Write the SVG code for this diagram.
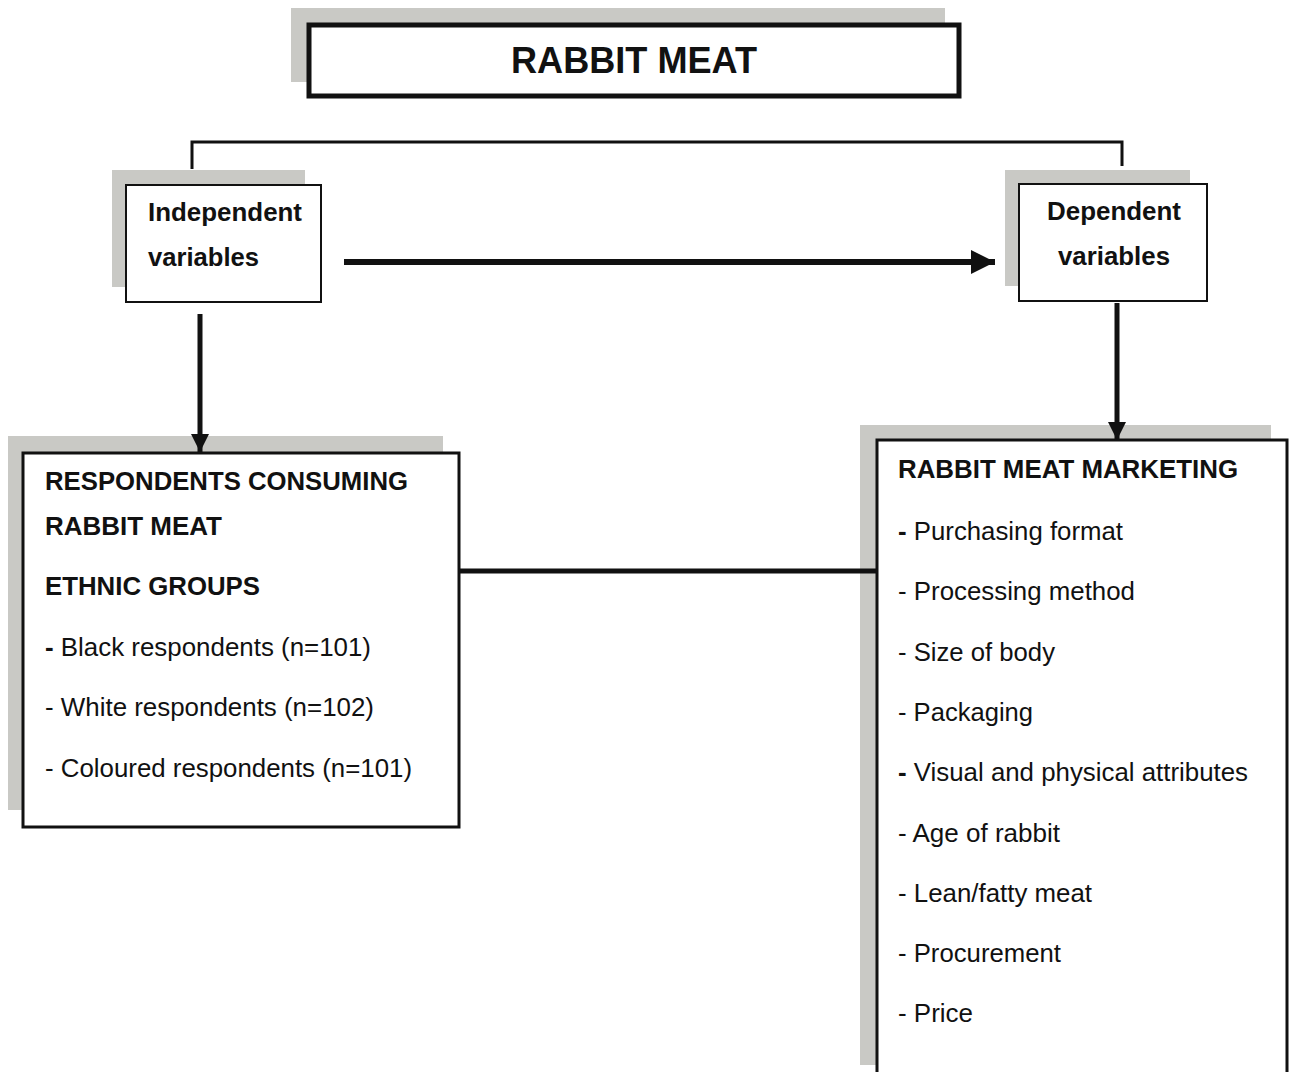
<svg xmlns="http://www.w3.org/2000/svg" width="1293" height="1072" viewBox="0 0 1293 1072">
<style>
.shadow{fill:#c9c9c5;stroke:none}
.box{fill:#ffffff;stroke:#111111}
.t{font-family:"Liberation Sans",Arial,sans-serif;font-size:26px;fill:#111111}
.b{font-weight:bold}
.conn{fill:none;stroke:#111111;stroke-linecap:butt}
</style>
<defs>
<marker id="ah" viewBox="0 0 10 10" refX="10" refY="5" markerWidth="4" markerHeight="4" markerUnits="strokeWidth" orient="auto">
<path d="M0,0 L10,5 L0,10 Z" fill="#111111"/>
</marker>
<marker id="ahs" viewBox="0 0 10 10" refX="10" refY="5" markerWidth="3.6" markerHeight="4.2" markerUnits="strokeWidth" orient="auto">
<path d="M0,0 L10,5 L0,10 Z" fill="#111111"/>
</marker>
</defs>
<rect width="1293" height="1072" fill="#ffffff"/>

<g id="title">
<rect class="shadow" x="291" y="8" width="654" height="74"/>
<rect class="box" x="309" y="25" width="650" height="71" stroke-width="5"/>
<text class="t b" x="634" y="73" text-anchor="middle" style="font-size:36px" textLength="246" lengthAdjust="spacingAndGlyphs">RABBIT MEAT</text>
</g>

<g id="independent">
<rect class="shadow" x="112" y="170" width="193" height="117"/>
<rect class="box" x="126" y="185" width="195" height="117" stroke-width="2"/>
<text class="t b" x="148" y="221" textLength="154" lengthAdjust="spacingAndGlyphs">Independent</text>
<text class="t b" x="148" y="266" textLength="111" lengthAdjust="spacingAndGlyphs">variables</text>
</g>

<g id="dependent">
<rect class="shadow" x="1005" y="170" width="185" height="116"/>
<rect class="box" x="1019" y="184" width="188" height="117" stroke-width="2"/>
<text class="t b" x="1114" y="220" text-anchor="middle" textLength="134" lengthAdjust="spacingAndGlyphs">Dependent</text>
<text class="t b" x="1114" y="265" text-anchor="middle" textLength="112" lengthAdjust="spacingAndGlyphs">variables</text>
</g>

<g id="respondents">
<rect class="shadow" x="8" y="436" width="435" height="374"/>
<rect class="box" x="23" y="453" width="436" height="374" stroke-width="3"/>
<text class="t b" x="45" y="490" textLength="363" lengthAdjust="spacingAndGlyphs">RESPONDENTS CONSUMING</text>
<text class="t b" x="45" y="535" textLength="177" lengthAdjust="spacingAndGlyphs">RABBIT MEAT</text>
<text class="t b" x="45" y="595" textLength="215" lengthAdjust="spacingAndGlyphs">ETHNIC GROUPS</text>
<text class="t" x="45" y="656" textLength="326" lengthAdjust="spacingAndGlyphs"><tspan class="b">-</tspan> Black respondents (n=101)</text>
<text class="t" x="45" y="716" textLength="329" lengthAdjust="spacingAndGlyphs">- White respondents (n=102)</text>
<text class="t" x="45" y="777" textLength="367" lengthAdjust="spacingAndGlyphs">- Coloured respondents (n=101)</text>
</g>

<g id="marketing">
<rect class="shadow" x="860" y="425" width="411" height="640"/>
<rect class="box" x="877" y="440" width="410" height="640" stroke-width="3"/>
<text class="t b" x="898" y="478" textLength="340" lengthAdjust="spacingAndGlyphs">RABBIT MEAT MARKETING</text>
<text class="t" x="898" y="540" textLength="225" lengthAdjust="spacingAndGlyphs"><tspan class="b">-</tspan> Purchasing format</text>
<text class="t" x="898" y="600" textLength="237" lengthAdjust="spacingAndGlyphs">- Processing method</text>
<text class="t" x="898" y="661" textLength="157" lengthAdjust="spacingAndGlyphs">- Size of body</text>
<text class="t" x="898" y="721" textLength="135" lengthAdjust="spacingAndGlyphs">- Packaging</text>
<text class="t" x="898" y="781" textLength="350" lengthAdjust="spacingAndGlyphs"><tspan class="b">-</tspan> Visual and physical attributes</text>
<text class="t" x="898" y="842" textLength="162" lengthAdjust="spacingAndGlyphs">- Age of rabbit</text>
<text class="t" x="898" y="902" textLength="194" lengthAdjust="spacingAndGlyphs">- Lean/fatty meat</text>
<text class="t" x="898" y="962" textLength="163" lengthAdjust="spacingAndGlyphs">- Procurement</text>
<text class="t" x="898" y="1022" textLength="75" lengthAdjust="spacingAndGlyphs">- Price</text>
</g>

<g id="connectors">
<path class="conn" d="M192,169 V142 H1122 V166" stroke-width="3"/>
<line class="conn" x1="344" y1="262" x2="995" y2="262" stroke-width="6" marker-end="url(#ah)"/>
<line class="conn" x1="200" y1="314" x2="200" y2="452" stroke-width="5" marker-end="url(#ahs)"/>
<line class="conn" x1="1117" y1="303" x2="1117" y2="440" stroke-width="5" marker-end="url(#ahs)"/>
<line class="conn" x1="459" y1="571" x2="877" y2="571" stroke-width="5"/>
</g>
</svg>
